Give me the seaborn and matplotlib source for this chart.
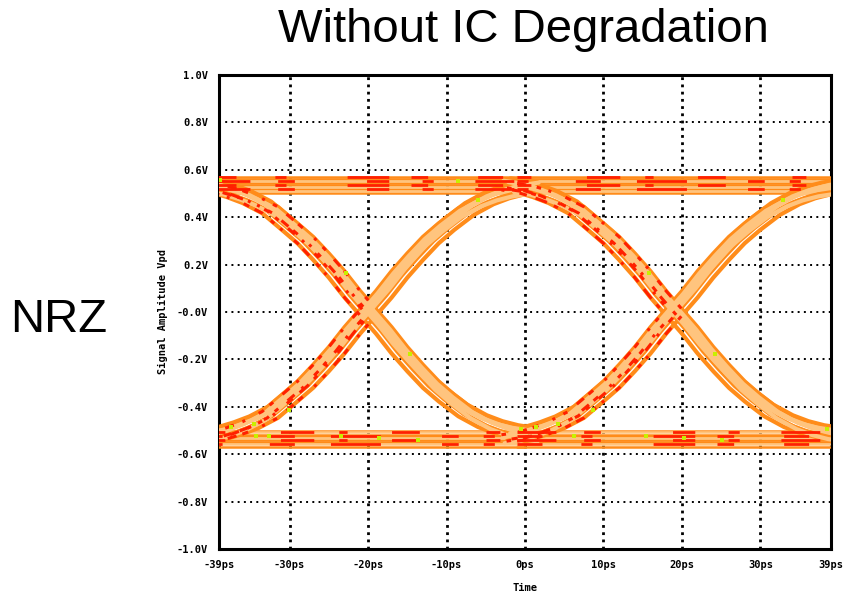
import matplotlib
matplotlib.use("Agg")
import matplotlib.pyplot as plt
import numpy as np
import pandas as pd
import seaborn as sns

# ---- axis ticks -------------------------------------------------------------
time_ticks = [-39, -30, -20, -10, 0, 10, 20, 30, 39]
time_labels = ["-39ps", "-30ps", "-20ps", "-10ps", "0ps", "10ps", "20ps", "30ps", "39ps"]
volt_ticks = [1.0, 0.8, 0.6, 0.4, 0.2, 0.0, -0.2, -0.4, -0.6, -0.8, -1.0]
volt_labels = ["1.0V", "0.8V", "0.6V", "0.4V", "0.2V", "-0.0V",
               "-0.2V", "-0.4V", "-0.6V", "-0.8V", "-1.0V"]

# ---- eye data ---------------------------------------------------------------
# crossing instants of the two unit intervals (ps)
crossings_ps = [-20.0, 19.0]

# averaged rising edge, time relative to the crossing (ps) and amplitude (V)
edge_dt_ps = [-21, -19, -17, -15, -12.5, -10, -8, -6, -4, -2, 0,
              2, 4, 6, 8, 10, 12.5, 15, 17, 19, 21]
edge_rise_v = [-0.530, -0.520, -0.500, -0.475, -0.432, -0.362, -0.305, -0.235,
               -0.160, -0.076, 0.0, 0.076, 0.160, 0.235, 0.305, 0.362,
               0.425, 0.470, 0.495, 0.512, 0.522]

# individual captured edges: timing jitter (ps, mirrored on falling edges),
# level offset (V) and shade
edge_jitter_ps = [-1.0, -0.6, -0.15, 0.3, 0.75, 1.0, -0.8, 0.5, -0.35, 0.1]
edge_offset_v = [0.012, -0.024, 0.034, -0.006, 0.024, -0.015, 0.002, 0.030, -0.015, 0.018]
edge_shade = ["orange", "light", "orange", "orange", "light", "orange",
              "light", "orange", "orange", "light"]

# edges that carry the red (high count) hits before the crossing
edge_red_idx = [0, 3, 5, 8]

# flat rail levels (V) for "1 1" and "0 0" bit pairs
high_levels_v = [0.568, 0.560, 0.552, 0.544, 0.536, 0.528, 0.520, 0.511, 0.502]
high_shade = ["orange", "orange", "light", "orange", "orange", "light", "orange", "light", "orange"]
high_red = [1, 0, 1, 0, 1, 0, 1, 0, 0]
low_levels_v = [-0.500, -0.508, -0.517, -0.525, -0.533, -0.542, -0.550, -0.559, -0.570]
low_shade = ["orange", "light", "orange", "orange", "light", "orange", "orange", "light", "orange"]
low_red = [0, 1, 0, 1, 0, 1, 0, 1, 0]

# isolated hottest samples (ps, V)
hot_t_ps = [-37.5, -34.5, -34.3, -32.6, -30.1, -23.5, -18.6, -13.6, -0.5, 1.4,
            4.2, 6.2, 8.7, 15.4, 20.3, 25.1, 38.5, -38.9, -8.5, -6.0,
            -14.7, -22.8, 32.9, 24.2, 15.8]
hot_v = [-0.485, -0.473, -0.523, -0.523, -0.413, -0.523, -0.532, -0.540, -0.494, -0.485,
         -0.473, -0.523, -0.413, -0.523, -0.532, -0.540, -0.494, 0.557, 0.553, 0.473,
         -0.177, 0.165, 0.473, -0.177, 0.165]

shade_colors = {"red": "#FF2000", "orange": "#FF8C1A", "light": "#FFC47E"}
# dash patterns (in line widths) for the red hits on the edges and rails
edge_patterns = {
    "e0": (2, 2.5, 1.5, 4, 3, 3, 1, 5),
    "e1": (1.5, 4, 3, 2, 2, 5, 1, 3),
    "e2": (3, 3.5, 1.5, 2.5, 1, 5, 2, 2),
    "e3": (1, 5, 2.5, 3, 4, 2.5, 1.5, 4),
}
rail_patterns = {
    "r0": (9, 14, 4, 22, 15, 8, 6, 18),
    "r1": (5, 20, 12, 9, 3, 16, 10, 24),
    "r2": (14, 10, 6, 26, 8, 12, 4, 15),
    "r3": (4, 17, 9, 13, 18, 22, 6, 9),
}

# ---- assemble traces ----------------------------------------------------------
base_rows, edge_rows, edge_red_rows, rail_red_rows = [], [], [], []
seg = 0
dt = np.asarray(edge_dt_ps, dtype=float)
rise = np.asarray(edge_rise_v, dtype=float)
for k, c in enumerate(crossings_ps):
    for s_i, sign in enumerate((1.0, -1.0)):
        for j, (jit, off, shade) in enumerate(zip(edge_jitter_ps, edge_offset_v, edge_shade)):
            t = c + dt + sign * jit
            v = sign * rise + off
            for ti, vi in zip(t, v):
                edge_rows.append((ti, vi, seg, shade))
            if j in edge_red_idx:
                keep = dt <= 1
                pat = "e%d" % ((j + s_i + k) % 4)
                for ti, vi in zip(t[keep], v[keep]):
                    edge_red_rows.append((ti, vi, seg, pat))
            seg += 1
    for levels, shades, reds in ((high_levels_v, high_shade, high_red),
                                 (low_levels_v, low_shade, low_red)):
        for i, (lv, shade, r) in enumerate(zip(levels, shades, reds)):
            for ti in (c - 20.0, c + 20.0):
                base_rows.append((ti, lv, seg, shade))
                if r:
                    rail_red_rows.append((ti, lv, seg, "r%d" % ((i + k) % 4)))
            seg += 1

cols = ["t", "v", "seg", "shade"]
rails = pd.DataFrame(base_rows, columns=cols)
edges = pd.DataFrame(edge_rows, columns=cols)
edge_red = pd.DataFrame(edge_red_rows, columns=["t", "v", "seg", "pattern"])
rail_red = pd.DataFrame(rail_red_rows, columns=["t", "v", "seg", "pattern"])
hot = pd.DataFrame({"t": hot_t_ps, "v": hot_v})

# ---- figure ---------------------------------------------------------------------
sns.set_style("white")
plt.rcParams["text.color"] = "black"
fig = plt.figure(figsize=(8.46, 5.91), dpi=100)
ax = fig.add_axes([219 / 846, 1 - 549 / 591, 612 / 846, 474 / 591])

ax.set_xlim(-39, 39)
ax.set_ylim(-1.0, 1.0)

sns.lineplot(data=rails, x="t", y="v", units="seg", estimator=None, sort=False,
             hue="shade", palette=shade_colors, linewidth=1.8, legend=False,
             ax=ax, zorder=3)
sns.lineplot(data=edges, x="t", y="v", units="seg", estimator=None, sort=False,
             hue="shade", hue_order=["orange", "light"], palette=shade_colors,
             linewidth=3.0, legend=False, ax=ax, zorder=3)
sns.lineplot(data=rail_red, x="t", y="v", units="seg", estimator=None, sort=False,
             style="pattern", dashes=rail_patterns, color=shade_colors["red"],
             linewidth=2.0, legend=False, ax=ax, zorder=4)
sns.lineplot(data=edge_red, x="t", y="v", units="seg", estimator=None, sort=False,
             style="pattern", dashes=edge_patterns, color=shade_colors["red"],
             linewidth=2.2, legend=False, ax=ax, zorder=4)
sns.scatterplot(data=hot, x="t", y="v", marker="s", s=8, color="#C8F000",
                edgecolor="none", legend=False, ax=ax, zorder=5)

# dotted graticule: heavier verticals, finer horizontals
ax.set_xticks(time_ticks)
ax.set_yticks(volt_ticks)
ax.xaxis.grid(True, color="black", linestyle=(0, (1, 1.6)), linewidth=2.0, zorder=1)
ax.yaxis.grid(True, color="black", linestyle=(0, (1, 2.2)), linewidth=1.4, zorder=1)
ax.set_axisbelow(True)
for sp in ax.spines.values():
    sp.set_visible(True)
    sp.set_color("black")
    sp.set_linewidth(2.2)
ax.tick_params(length=0, pad=8, labelcolor="black")

mono = dict(family="DejaVu Sans Mono", weight="bold", size=7.5, color="black")
ax.set_xticklabels(time_labels, fontdict=mono)
ax.set_yticklabels(volt_labels, fontdict=mono)
ax.set_xlabel("Time", fontdict=mono, labelpad=9)
ax.set_ylabel("Signal Amplitude Vpd", fontdict=mono, labelpad=6)

fig.text(523 / 846, 1 - 30 / 591, "Without IC Degradation", ha="center", va="center",
         family=["Liberation Sans", "DejaVu Sans"], fontsize=34, color="black")
fig.text(59 / 846, 1 - 320 / 591, "NRZ", ha="center", va="center",
         family=["Liberation Sans", "DejaVu Sans"], fontsize=34, color="black")

fig.savefig("out.png", dpi=100, facecolor="white")
